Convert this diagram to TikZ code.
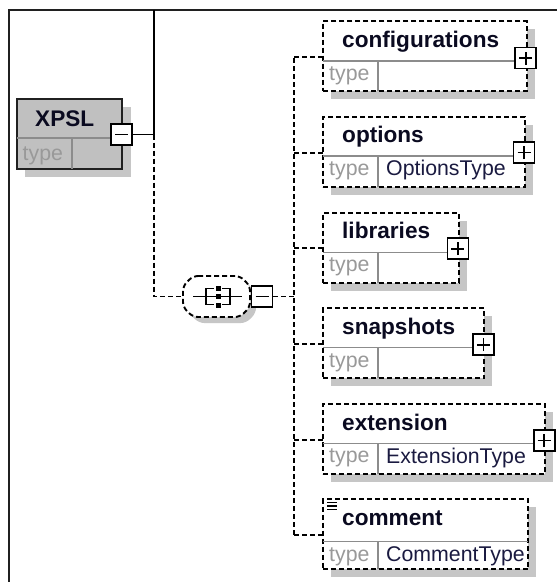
\documentclass[tikz,border=0pt]{standalone}
\usepackage{fontspec}
\setmainfont{Liberation Sans}
\usetikzlibrary{calc}
\definecolor{shadowgray}{HTML}{C6C6C6}
\definecolor{boxgray}{HTML}{C0C0C0}
\definecolor{typegray}{HTML}{999999}
\definecolor{divgray}{HTML}{8C8C8C}
\definecolor{valuecol}{HTML}{1A1A40}
\definecolor{titlecol}{HTML}{0A0A20}
\definecolor{framecol}{HTML}{202020}

\newcommand\xsdchild[6]{% #1 name, #2 left, #3 top, #4 right, #5 divider offset, #6 title
  \fill[shadowgray] (#2+8,#3+8) rectangle (#4+8,#3+78);
  \node[childbox, minimum width={(#4-#2)*1pt}] (#1) at (#2,#3) {};
  \draw[divline] (#2,#3+#5) -- (#4,#3+#5);
  \draw[divline] (#2+55,#3+#5) -- (#2+55,#3+70);
  \node[titletext] (#1-title) at (#2+19,#3+26) {#6};
  \node[typetext] (#1-type) at (#2+6,#3+#5+19.5) {type};
}

\begin{document}
\begin{tikzpicture}[x=1pt,y=-1pt,
  conn/.style={line width=1.9pt, dash pattern=on 5pt off 3pt},
  solidconn/.style={line width=1.8pt},
  childbox/.style={draw, fill=white, line width=1.9pt, dash pattern=on 5pt off 3pt,
    inner sep=0, outer sep=0, anchor=north west, minimum height=70pt},
  divline/.style={draw=divgray, line width=1.3pt},
  titletext/.style={anchor=base west, inner sep=0, text=titlecol,
    font=\fontsize{22.6}{26}\selectfont\bfseries},
  typetext/.style={anchor=base west, inner sep=0, text=typegray,
    font=\fontsize{21.3}{25}\selectfont},
  valuetext/.style={anchor=base west, inner sep=0, text=valuecol,
    font=\fontsize{21.3}{25}\selectfont},
  plusbox/.style={draw, fill=white, line width=1.6pt, minimum size=21pt, inner sep=0,
    path picture={
      \draw[line width=1.6pt] ([xshift=-6.5pt]path picture bounding box.center) -- ([xshift=6.5pt]path picture bounding box.center);
      \draw[line width=1.6pt] ([yshift=-6.5pt]path picture bounding box.center) -- ([yshift=6.5pt]path picture bounding box.center);}},
  minusbox/.style={draw, fill=white, line width=1.6pt, minimum size=21pt, inner sep=0,
    path picture={
      \draw[line width=1.6pt] ([xshift=-6.5pt]path picture bounding box.center) -- ([xshift=6.5pt]path picture bounding box.center);}},
]
\useasboundingbox (0,0) rectangle (557,582);
\fill[white] (0,0) rectangle (557,582);

% frame
\draw[line width=2pt, draw=framecol] (8.5,582) -- (8.5,9.5) -- (557,9.5);

% ---------- XPSL root element ----------
\fill[shadowgray] (25,107) rectangle (131,177);
\node[draw=framecol, fill=boxgray, line width=1.8pt, inner sep=0, outer sep=0,
  anchor=north west, minimum width=105pt, minimum height=70pt] (xpsl) at (17,99) {};
\draw[divline] (17,138) -- (122,138);
\draw[divline] (72,138) -- (72,169);
\node[titletext] (xpsl-title) at (35,126) {XPSL};
\node[typetext] (xpsl-type) at (22.5,160.5) {type};
\node[minusbox] (xpslminus) at (121.5,134.5) {};

% ---------- sequence compositor ----------
\fill[shadowgray, rounded corners=5pt] (199,282) -- (246,282) -- (256,292) -- (256,313) -- (246,323) -- (199,323) -- (189,313) -- (189,292) -- cycle;
\fill[white, rounded corners=5pt] (193,276) -- (240,276) -- (250,286) -- (250,307) -- (240,317) -- (193,317) -- (183,307) -- (183,286) -- cycle;
\draw[conn, rounded corners=5pt] (193,276) -- (240,276) -- (250,286) -- (250,307) -- (240,317) -- (193,317) -- (183,307) -- (183,286) -- cycle;
\node[inner sep=0, outer sep=0, minimum width=67pt, minimum height=41pt] (seq) at (216.5,296.5) {};
% sequence symbol
\draw[line width=1.7pt] (193,296.5) -- (242,296.5);
\draw[line width=1.7pt] (214,288.5) -- (206,288.5) -- (206,304.5) -- (214,304.5);
\draw[line width=1.7pt] (222,288.5) -- (230,288.5) -- (230,304.5) -- (222,304.5);
\fill (215.5,285.5) rectangle (220.5,290.5);
\fill (215.5,294) rectangle (220.5,299);
\fill (215.5,302.5) rectangle (220.5,307.5);
\node[minusbox] (seqminus) at (262,296.5) {};

% ---------- child elements ----------
\xsdchild{configurations}{323}{21}{526.7}{40}{configurations}
\xsdchild{options}{323}{116.7}{525}{39.4}{options}
\node[valuetext] (options-value) at (386,175.6) {OptionsType};
\xsdchild{libraries}{323}{212.7}{459}{39.6}{libraries}
\xsdchild{snapshots}{323}{308.3}{484.3}{39.4}{snapshots}
\xsdchild{extension}{323}{404}{545}{39.3}{extension}
\node[valuetext] (extension-value) at (386,463) {ExtensionType};
\xsdchild{comment}{323}{499.3}{528.3}{42.4}{comment}
\node[valuetext] (comment-value) at (386,561.5) {CommentType};
% mixed-content mark
\draw[line width=1.1pt] (327,502.5) -- (337,502.5) (327,506) -- (337,506) (327,509.5) -- (337,509.5);

\node[plusbox] (configurations-plus) at (525.7,58) {};
\node[plusbox] (options-plus) at (524,152.5) {};
\node[plusbox] (libraries-plus) at (457.8,248.7) {};
\node[plusbox] (snapshots-plus) at (483.5,344.7) {};
\node[plusbox] (extension-plus) at (544.2,440.5) {};

% ---------- connectors ----------
\coordinate (topend) at (154,10);
\coordinate (j1) at (154,134.5);
\coordinate (trunk) at (294,296.5);
\draw[solidconn] (xpslminus.east) -- (j1);
\draw[solidconn] (topend) -- (j1);
\draw[conn] (j1) |- (seq.west);
\draw[conn] (seqminus.east) -- (trunk);
\draw[conn] (trunk |- configurations-plus) -- (trunk |- 0,535);
\foreach \c/\y in {configurations/57, options/152.7, libraries/247.7, snapshots/344.3, extension/440, comment/535}
  \draw[conn] (294,\y) -- (\c.west |- 0,\y);
\end{tikzpicture}
\end{document}
